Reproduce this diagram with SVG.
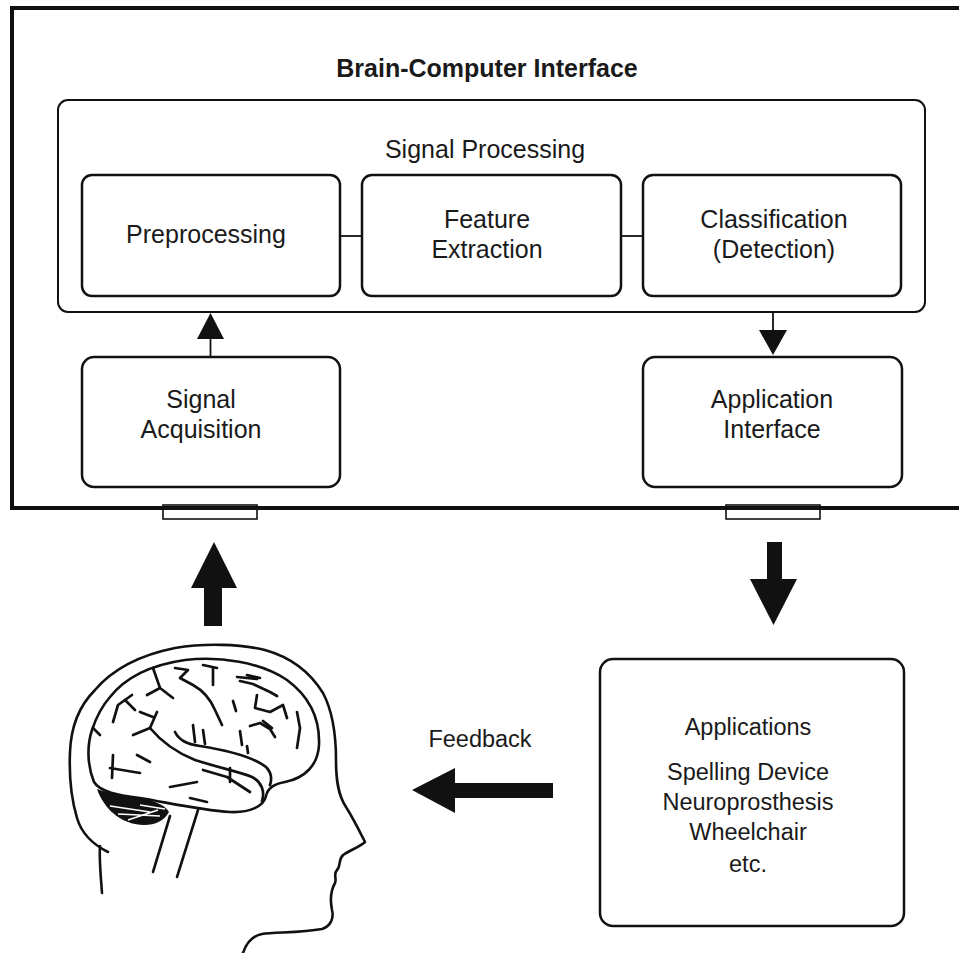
<svg xmlns="http://www.w3.org/2000/svg" width="959" height="953" viewBox="0 0 959 953">
<style>
.box{fill:#fff;stroke:#111;stroke-width:2.5}
.t{font-family:"Liberation Sans",Arial,sans-serif;font-size:25px;fill:#1a1a1a;text-anchor:middle}
.tb{font-weight:bold}
.s{font-size:23.5px}
.ln{stroke:#111;stroke-width:1.8;fill:none}
.fill{fill:#111;stroke:none}
.hd{fill:none;stroke:#111;stroke-width:2.6;stroke-linecap:round;stroke-linejoin:round}
.sc{fill:none;stroke:#111;stroke-width:2.7;stroke-linecap:round;stroke-linejoin:round}
</style>
<rect width="959" height="953" fill="#fff"/>

<g id="bci">
  <rect x="163" y="505" width="94" height="14" fill="#fff" stroke="#111" stroke-width="1.6"/>
  <rect x="726" y="505" width="94" height="14" fill="#fff" stroke="#111" stroke-width="1.6"/>
  <rect x="12" y="8" width="960" height="500" fill="none" stroke="#111" stroke-width="4"/>
  <text class="t tb" x="487" y="77">Brain-Computer Interface</text>
</g>

<g id="signal-processing">
  <rect x="58" y="100" width="867" height="212" rx="10" fill="none" stroke="#111" stroke-width="2"/>
  <text class="t" x="485" y="158">Signal Processing</text>
</g>

<g id="preprocessing">
  <rect class="box" x="82" y="175" width="258" height="121" rx="10"/>
  <text class="t" x="206" y="243">Preprocessing</text>
</g>

<g id="feature-extraction">
  <rect class="box" x="362" y="175" width="259" height="121" rx="10"/>
  <text class="t" x="487" y="228">Feature</text>
  <text class="t" x="487" y="258">Extraction</text>
</g>

<g id="classification">
  <rect class="box" x="643" y="175" width="258" height="121" rx="10"/>
  <text class="t" x="774" y="228">Classification</text>
  <text class="t" x="774" y="258">(Detection)</text>
</g>

<g id="signal-acquisition">
  <rect class="box" x="82" y="357" width="258" height="130" rx="12"/>
  <text class="t" x="201" y="408">Signal</text>
  <text class="t" x="201" y="438">Acquisition</text>
</g>

<g id="application-interface">
  <rect class="box" x="643" y="357" width="259" height="130" rx="12"/>
  <text class="t" x="772" y="408">Application</text>
  <text class="t" x="772" y="438">Interface</text>
</g>

<g id="applications">
  <rect class="box" x="600" y="659" width="304" height="267" rx="13" stroke-width="2.8"/>
  <text class="t s" x="748" y="735">Applications</text>
  <text class="t s" x="748" y="780">Spelling Device</text>
  <text class="t s" x="748" y="810">Neuroprosthesis</text>
  <text class="t s" x="748" y="840">Wheelchair</text>
  <text class="t s" x="748" y="872">etc.</text>
</g>

<g id="connectors">
  <line class="ln" x1="340" y1="236" x2="362" y2="236"/>
  <line class="ln" x1="621" y1="236" x2="643" y2="236"/>
  <line class="ln" x1="210.5" y1="357" x2="210.5" y2="337"/>
  <polygon class="fill" points="197,339 224,339 210.5,313"/>
  <line class="ln" x1="773" y1="312" x2="773" y2="332"/>
  <polygon class="fill" points="759,330 787,330 773,355"/>
  <polygon class="fill" points="204,626 222,626 222,588 237,588 214,542 191,588 204,588"/>
  <polygon class="fill" points="767,542 782,542 782,579 797,579 773.5,625 750,579 767,579"/>
  <polygon class="fill" points="553,783 553,798 455,798 455,813 412,790 455,768 455,783"/>
  <text class="t s" x="480" y="747">Feedback</text>
</g>

<g id="head">
  <path class="hd" d="M108,852 C94,845 82,835 77,818 C71,798 69,775 70,752 C71,725 80,705 95,690 C112,670 140,655 175,648 C205,643 240,644 265,650 C290,657 310,672 323,693 C333,712 336,735 336,760 C336,780 338,795 346,807 C353,818 360,832 365,842 C360,847 350,850 343,855 C338,860 341,866 337,870 C333,874 337,879 335,883 C331,890 330,900 332,910 C334,918 331,926 322,929 C300,933 275,932 262,934 C252,936 246,944 243,953"/>
  <path class="hd" d="M100,846 C99,860 101,878 102,893"/>
  <path class="hd" stroke-width="3" d="M110,697 C125,678 150,665 185,660 C220,656 260,662 287,680 C310,697 320,720 319,745 C318,765 305,778 285,782 C275,784 268,787 266,796 C264,806 250,813 230,812 C200,810 170,803 140,798 C118,795 100,792 94,782 C87,765 87,745 92,730 C96,718 102,706 110,697 Z"/>
  <path class="fill" d="M97,789 C103,806 116,820 135,824 C150,827 163,823 169,812 C165,804 150,799 130,796 C115,794 104,792 97,789 Z"/>
  <path d="M110,806 L150,812 M118,814 L160,816 M128,820 L158,810 M140,805 L165,809" stroke="#fff" stroke-width="1.6" fill="none"/>
  <path class="hd" d="M170,816 L153,872 M198,810 L177,877"/>
  <path class="sc" d="M175,732 C179,740 186,744 200,746 C225,750 252,756 266,767 C271,772 272,779 270,785"/>
  <path class="sc" d="M150,728 C160,740 175,752 195,760 C220,768 240,772 252,777 C262,782 265,792 262,801"/>
  <path class="sc" d="M133,735 L150,728 L157,712"/>
  <path class="sc" d="M193,725 L195,742 M203,730 L205,744"/>
  <path class="sc" d="M153,668 L160,688 L147,695 M160,688 L173,698"/>
  <path class="sc" d="M175,668 L188,670 L180,678 L193,685 C202,690 210,698 215,710 L222,725"/>
  <path class="sc" d="M203,665 L217,668 M213,668 L213,685"/>
  <path class="sc" d="M113,722 L118,705 L132,695"/>
  <path class="sc" d="M113,755 L112,778 M110,768 L140,773"/>
  <path class="sc" d="M137,755 L150,762"/>
  <path class="sc" d="M170,787 L197,782"/>
  <path class="sc" d="M190,798 L207,802"/>
  <path class="sc" d="M237,677 L257,679 M247,675 L260,678"/>
  <path class="sc" d="M240,681 L253,684 L270,692 L277,696"/>
  <path class="sc" d="M257,695 L255,708 L270,712 L283,705 L287,718"/>
  <path class="sc" d="M297,712 L300,728 L297,748"/>
  <path class="sc" d="M250,726 L260,723 L270,729 L275,737 M263,721 L272,728"/>
  <path class="sc" d="M233,701 L236,711"/>
  <path class="sc" d="M240,731 L242,745 M247,746 L248,753"/>
  <path class="sc" d="M203,770 L227,777 L250,792 M230,768 L230,782"/>
  <path class="sc" d="M93,728 L100,735"/>
  <path class="sc" d="M125,700 L135,710 M140,712 L153,717"/>
</g>
</svg>
